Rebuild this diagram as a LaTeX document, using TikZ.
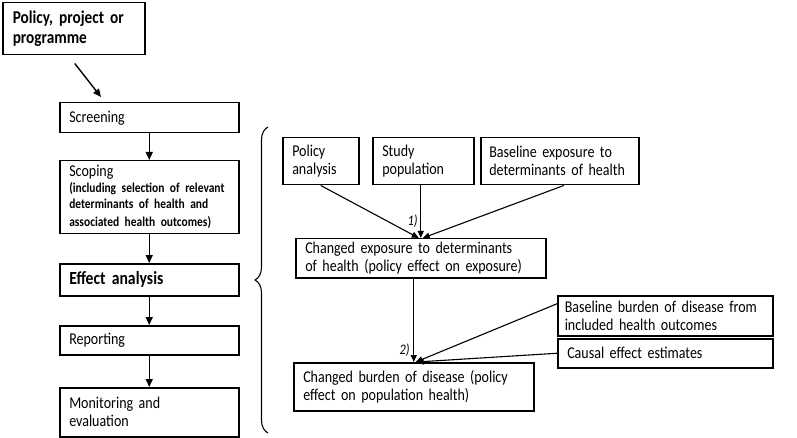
\documentclass[tikz,border=0pt]{standalone}
\usepackage{fontspec}
\setmainfont{Carlito}[FakeStretch=0.85]
\usetikzlibrary{arrows.meta,decorations.pathreplacing}

\begin{document}
\begin{tikzpicture}[
        x=1pt, y=-1pt,
        %
        % boxes of the flow chart
        stage/.style={draw, line width=1.5pt, anchor=north west, align=left,
            inner xsep=9pt, inner ysep=0pt, font=\fontsize{16.5}{18}\selectfont},
        flow/.style={line width=1.4pt, -{Triangle[length=8pt,width=7pt]}},
        link/.style={line width=1.1pt, -{Triangle[length=7pt,width=6pt]}},
        steplabel/.style={font=\fontsize{14.5}{15}\itshape, inner sep=1pt}
    ]

        % fix the size of the page
        \useasboundingbox (0,0) rectangle (797,438);

        % Left column: the stages of the assessment
        \node[stage, minimum width=142pt, minimum height=52pt, text width=122pt, inner xsep=10pt,
              font=\fontsize{18}{20}\bfseries] (policy) at (2,2)
            {Policy, project or\\programme};
        \node[stage, minimum width=179pt, minimum height=30pt, text width=160pt]
            (screening) at (59,102) {Screening};
        \node[stage, minimum width=179pt, minimum height=73pt, text width=160pt]
            (scoping) at (59,160)
            {Scoping\\[-1pt]{\fontsize{13.5}{16.5}\bfseries\selectfont (including selection of relevant\\
             determinants of health and\\associated health outcomes)}};
        \node[stage, minimum width=179pt, minimum height=32pt, text width=160pt,
              font=\fontsize{18.5}{20}\bfseries] (effect) at (59,263) {Effect analysis};
        \node[stage, minimum width=179pt, minimum height=29pt, text width=160pt]
            (reporting) at (59,325) {Reporting};
        \node[stage, minimum width=179pt, minimum height=49pt, text width=160pt]
            (monitoring) at (59,387) {Monitoring and\\evaluation};

        % Arrows down the left column
        \draw[flow] ([xshift=1pt,yshift=-8pt]policy.south) --
            ([xshift=42pt,yshift=5pt]screening.north west);
        \draw[flow] (screening.south) -- (scoping.north);
        \draw[flow] (scoping.south) -- (effect.north);
        \draw[flow] (effect.south) -- (reporting.north);
        \draw[flow] (reporting.south) -- (monitoring.north);

        % Brace grouping the effect analysis
        \draw[line width=1.1pt, decorate, decoration={brace, amplitude=13pt}]
            (268,433) -- (268,127);

        % Right part: inputs of the effect analysis
        \node[stage, minimum width=76pt, minimum height=47pt, text width=57pt]
            (polan) at (282,137) {Policy\\analysis};
        \node[stage, minimum width=101pt, minimum height=47pt, text width=82pt]
            (studypop) at (372,137) {Study\\population};
        \node[stage, minimum width=158pt, minimum height=47pt, text width=141pt, inner xsep=8pt]
            (baseexp) at (480,137) {Baseline exposure to\\determinants of health};
        \node[stage, minimum width=250pt, minimum height=39pt, text width=231pt]
            (chexp) at (295,238) {Changed exposure to determinants\\of health (policy effect on exposure)};
        \node[stage, minimum width=215pt, minimum height=40pt, text width=201pt, inner xsep=7pt]
            (baseburden) at (557,295) {Baseline burden of disease from\\included health outcomes};
        \node[stage, minimum width=215pt, minimum height=29pt, text width=196pt]
            (causal) at (557,338) {Causal effect estimates};
        \node[stage, minimum width=240pt, minimum height=48pt, text width=221pt]
            (chburden) at (293,362) {Changed burden of disease (policy\\effect on population health)};

        % Arrows into the changed exposure
        \draw[link] (polan.south) -- ([xshift=-2pt]chexp.north);
        \draw[link] (chexp.north |- studypop.south) -- (chexp.north);
        \draw[link] ([xshift=4pt]baseexp.south) -- ([xshift=2pt]chexp.north);
        \node[steplabel, anchor=south east] (one) at ([xshift=-2pt,yshift=9pt]chexp.north) {1)};

        % Arrows into the changed burden of disease
        \draw[link] (chburden.north |- chexp.south) -- (chburden.north);
        \draw[link] ([yshift=12pt]baseburden.west) -- ([xshift=2pt]chburden.north);
        \draw[link] (causal.west) -- ([xshift=3pt]chburden.north);
        \node[steplabel, anchor=south east] (two) at ([xshift=-3pt,yshift=4pt]chburden.north) {2)};

    \end{tikzpicture}
\end{document}
